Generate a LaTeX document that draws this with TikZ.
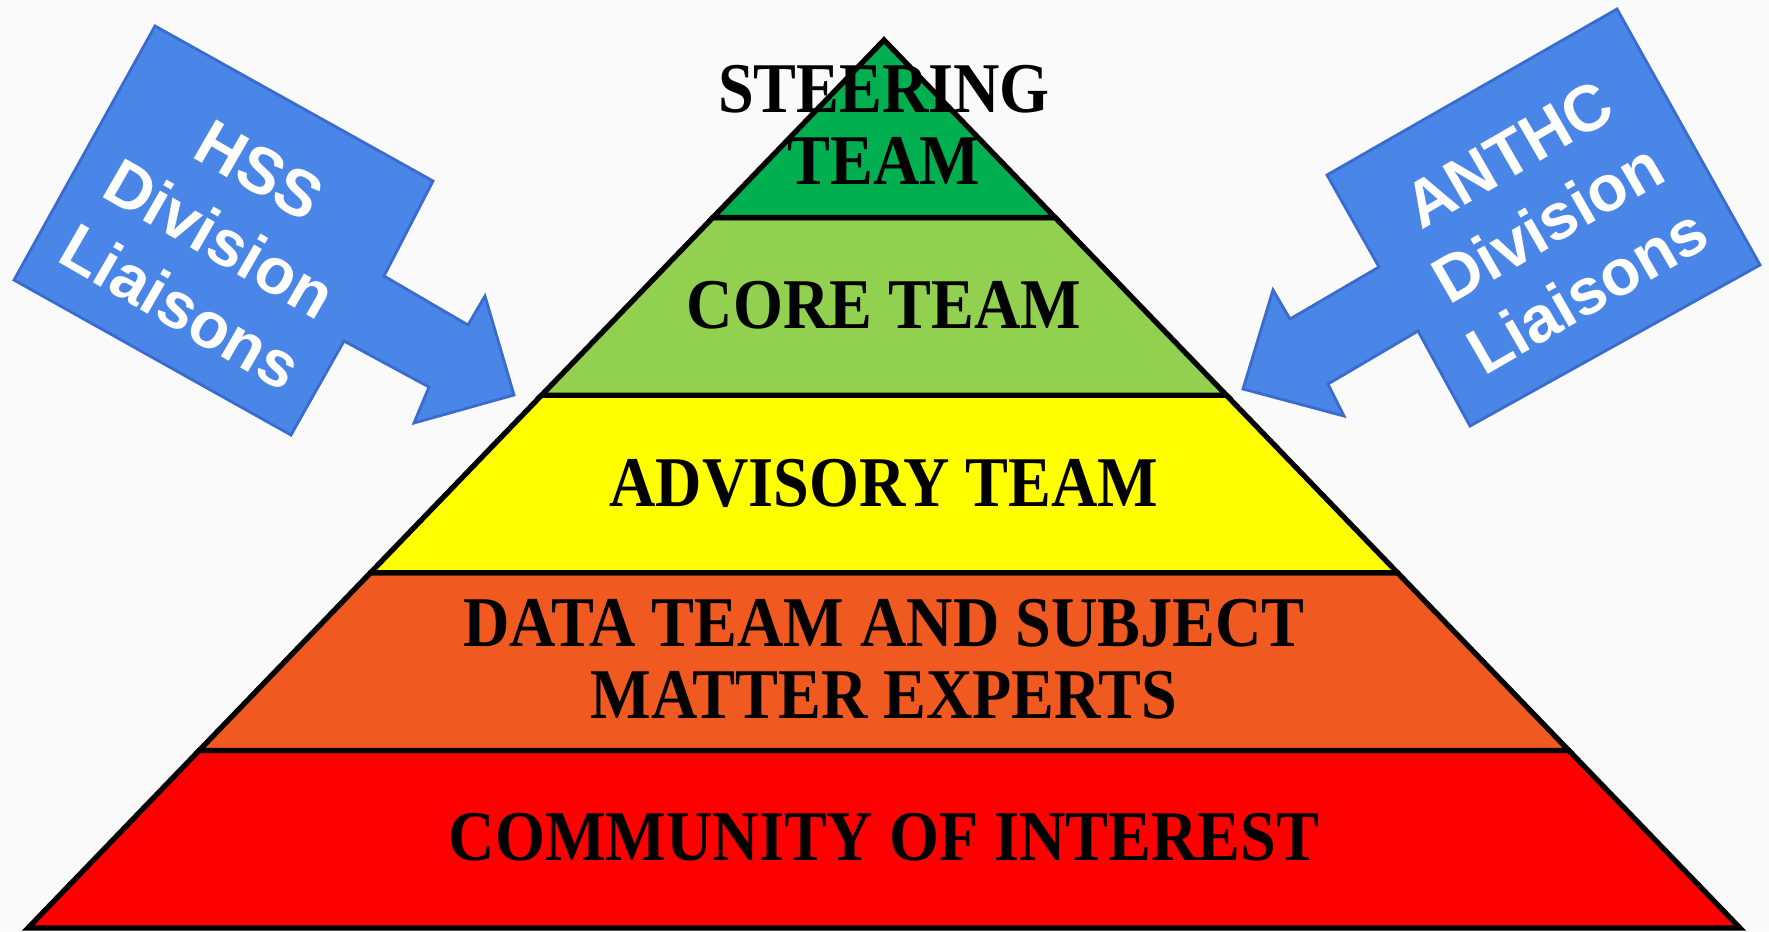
\documentclass[tikz,border=0pt]{standalone}
\usepackage{fontspec}
\newfontfamily\tierfont{Liberation Serif}[FakeStretch=0.9]
\newfontfamily\liaisonfont{Liberation Sans}
\usetikzlibrary{calc}

\definecolor{paper}{RGB}{250,250,250}
\definecolor{steerGreen}{RGB}{0,176,80}
\definecolor{coreGreen}{RGB}{146,208,80}
\definecolor{advYellow}{RGB}{255,255,0}
\definecolor{dataOrange}{RGB}{240,90,32}
\definecolor{commRed}{RGB}{255,0,0}
\definecolor{liaisonBlue}{RGB}{74,134,232}
\definecolor{liaisonEdge}{RGB}{58,108,205}

\tikzset{
  band/.style={draw=black, line width=1.5pt, line join=miter},
  tier/.style={font=\tierfont\bfseries\fontsize{20.3}{20.5}\selectfont, align=center, inner sep=0pt},
  liaison/.style={fill=liaisonBlue, draw=liaisonEdge, line width=0.8pt, line join=miter},
  liaisontext/.style={font=\liaisonfont\bfseries\fontsize{18.5}{22.5}\selectfont, text=white, align=center, inner sep=0pt}
}

\begin{document}
\begin{tikzpicture}
    \useasboundingbox (0, 0) rectangle (17.69, 9.31);
    \fill[paper] (0, 0) rectangle (17.69, 9.31);

    \coordinate (bl) at (0.28, 0.03);
    \coordinate (br) at (17.40, 0.03);
    \coordinate (top) at (8.84, 8.91);

    % four bands, bottom up
    \foreach \col [count=\i from 0] in {commRed, dataOrange, advYellow, coreGreen} {
        \pgfmathsetmacro\lo{\i/5}
        \pgfmathsetmacro\hi{(\i+1)/5}
        \filldraw[band, fill=\col] ($(bl)!\lo!(top)$) -- ($(br)!\lo!(top)$)
            -- ($(br)!\hi!(top)$) -- ($(bl)!\hi!(top)$) -- cycle;
    }
    \filldraw[band, fill=steerGreen] ($(bl)!0.8!(top)$) -- ($(br)!0.8!(top)$) -- (top) -- cycle;

    \node[tier] (steering) at (8.84, 8.06) {STEERING\\TEAM};
    \node[tier] (core) at (8.84, 6.26) {CORE TEAM};
    \node[tier] (advisory) at (8.84, 4.48) {ADVISORY TEAM};
    \node[tier] (data) at (8.84, 2.72) {DATA TEAM AND SUBJECT\\MATTER EXPERTS};
    \node[tier] (community) at (8.84, 0.94) {COMMUNITY OF INTEREST};

    % liaison arrows
    \filldraw[liaison] (1.55, 9.05) -- (4.33, 7.50) -- (3.84, 6.55) -- (4.68, 6.06)
        -- (4.85, 6.35) -- (5.14, 5.36) -- (4.14, 5.08) -- (4.29, 5.44)
        -- (3.44, 5.90) -- (2.91, 4.96) -- (0.14, 6.51) -- cycle;
    \filldraw[liaison] (13.27, 7.56) -- (13.79, 6.64) -- (12.90, 6.12) -- (12.73, 6.41)
        -- (12.43, 5.42) -- (13.44, 5.15) -- (13.28, 5.47) -- (14.18, 6.00)
        -- (14.70, 5.05) -- (17.60, 6.66) -- (16.17, 9.22) -- cycle;

    \node[liaisontext, rotate=-30] (hss) at (2.20, 6.92) {HSS\\Division\\Liaisons};
    \node[liaisontext, rotate=30] (anthc) at (15.48, 7.08) {ANTHC\\Division\\Liaisons};
\end{tikzpicture}
\end{document}
